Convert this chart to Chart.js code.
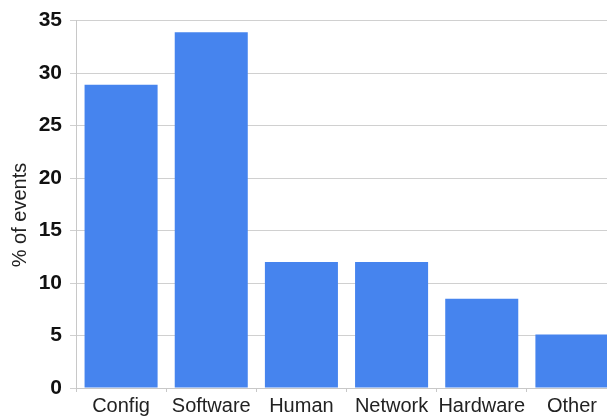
<!DOCTYPE html>
<html>
<head>
<meta charset="utf-8">
<script src="https://cdn.jsdelivr.net/npm/chart.js@4"></script>
<style>
html,body{margin:0;padding:0;background:#fff;overflow:hidden;}
#wrap{width:617px;height:417px;}
</style>
</head>
<body>
<div id="wrap"><canvas id="eventsChart" width="617" height="417"></canvas></div>
<script>
// DATA
let categories = ["Config","Software","Human","Network","Hardware","Other"];
let percents = [28.9, 33.9, 12, 12, 8.5, 5.1];
let yTicks = [0,5,10,15,20,25,30,35];
let yTitle = "% of events";

// Y TITLE (sits a bit below the middle of the axis)
let yTitlePlugin = {
id:"yTitle",
afterDraw:function(chart){
let ctx = chart.ctx;
ctx.save();
ctx.translate(20,215);
ctx.rotate(-Math.PI/2);
ctx.font = "20px 'Liberation Sans'";
ctx.fillStyle = "#222";
ctx.textAlign = "center";
ctx.textBaseline = "middle";
ctx.fillText(yTitle,0,0);
ctx.restore();
}
};

// CHART
new Chart(document.getElementById("eventsChart"),{

type:"bar",

data:{
labels:categories,
datasets:[{
data:percents,
backgroundColor:"#4684ee",
categoryPercentage:1,
barPercentage:0.81
}]
},

options:{
responsive:false,
animation:false,
layout:{padding:{top:8,right:0,bottom:0,left:0}},
plugins:{legend:{display:false},tooltip:{enabled:false}},
scales:{
x:{
grid:{offset:true,drawOnChartArea:false,color:"#c8c8c8",tickLength:4},
border:{color:"#c8c8c8"},
ticks:{color:"#222",font:{family:"Liberation Sans",size:20},padding:2,maxRotation:0,autoSkip:false},
afterFit:function(s){ s.height = 29; }
},
y:{
min:0,
max:35,
afterBuildTicks:function(s){ s.ticks = yTicks.map(v=>({value:v})); },
grid:{color:"#d0d0d0",tickLength:6},
border:{color:"#c8c8c8"},
ticks:{color:"#111",font:{family:"Liberation Sans",size:21,weight:"bold"},padding:8},
afterFit:function(s){ s.width = 76; }
}
}
},

plugins:[yTitlePlugin]

});
</script>
</body>
</html>
